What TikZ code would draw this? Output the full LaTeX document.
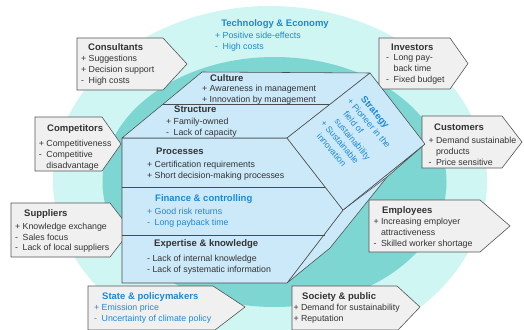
\documentclass[tikz,border=0pt]{standalone}
\usepackage{fontspec}
\setmainfont{Liberation Sans}
\definecolor{outercyan}{RGB}{207,246,242}
\definecolor{innerteal}{RGB}{125,214,210}
\definecolor{layfill}{RGB}{204,233,250}
\definecolor{layline}{RGB}{75,75,75}
\definecolor{boxfill}{RGB}{240,240,240}
\definecolor{boxline}{RGB}{85,85,85}
\definecolor{txtdark}{RGB}{51,51,51}
\definecolor{txtblue}{RGB}{30,136,212}
\newcommand{\sgnp}{\makebox[7.5pt][l]{+}}
\newcommand{\sgnm}{\makebox[7.5pt][l]{-}}
\newcommand{\sgnn}{\hspace*{7.5pt}}
\newcommand{\bodylines}[5]{%
  \foreach \zz [count=\ii] in {#5} {\node[#2, anchor=base west] (#1-\ii) at (#3, #4+10.8*\ii-10.8) {\zz};}}
\begin{document}
\begin{tikzpicture}[x=1pt,y=-1pt,
  ttl/.style={font=\fontsize{9.5}{11}\selectfont\bfseries, text=txtdark, inner sep=0pt},
  ttlblue/.style={ttl, text=txtblue},
  bdy/.style={font=\fontsize{8.8}{10.8}\selectfont, text=txtdark, inner sep=0pt},
  bdyblue/.style={bdy, text=txtblue},
  pbox/.style={draw=boxline, fill=boxfill, line width=0.6pt, line join=miter},
  layer/.style={draw=layline, fill=layfill, line width=0.55pt, line join=round}]
\useasboundingbox (0,0) rectangle (524,329);
\clip (0,0) rectangle (524,329);
% ellipses
\fill[outercyan] (270,181) ellipse [x radius=217, y radius=175];
\fill[innerteal] (274.5,182) ellipse [x radius=172, y radius=125];
% stakeholder boxes
\draw[pbox] (77,38) -- (163,38) -- (187,64) -- (163,90) -- (77,90) -- cycle;
\draw[pbox] (35,117) -- (102,117) -- (121,144) -- (102,171) -- (35,171) -- cycle;
\draw[pbox] (11,203) -- (110,203) -- (131,230) -- (110,257) -- (11,257) -- cycle;
\draw[pbox] (379,38) -- (450,38) -- (468,63.5) -- (450,89) -- (379,89) -- cycle;
\draw[pbox] (422,116) -- (502,116) -- (522,142) -- (502,168) -- (422,168) -- cycle;
\draw[pbox] (369,200) -- (480,200) -- (510,226) -- (480,252) -- (369,252) -- cycle;
\draw[pbox] (88,286) -- (213,286) -- (245,307) -- (215,330) -- (88,330) -- cycle;
\draw[pbox] (292,286) -- (397,286) -- (420,307) -- (398,330) -- (292,330) -- cycle;
% central shape
\coordinate (A) at (202,72);
\coordinate (T) at (370,73);
\coordinate (C1) at (163,104);
\coordinate (C2) at (330,104);
\coordinate (L) at (287,138);
\coordinate (D) at (122,138);
\coordinate (S) at (343,210);
\coordinate (B) at (287,283);
\coordinate (E) at (122,283);
\coordinate (F1) at (122,187);
\coordinate (F2) at (325,187);
\coordinate (G1) at (122,235);
\coordinate (G2) at (325,235);
\coordinate (R) at (425,144);
\coordinate (P1) at (387,177);
\coordinate (Q) at (330,248);
\draw[layer] (R) -- (P1) -- (Q) -- (B) -- (S) -- cycle;
\draw[layer] (P1) -- (S);
\draw[layer] (D) -- (L) -- (S) -- (B) -- (E) -- cycle;
\draw[layline, line width=0.55pt] (F1) -- (F2) (G1) -- (G2);
\draw[layer] (A) -- (T) -- (L) -- (D) -- cycle;
\draw[layline, line width=0.55pt] (C1) -- (C2);
\draw[layer] (T) -- (R) -- (S) -- (L) -- cycle;
% texts
\node[ttlblue, anchor=base] (tech) at (275,26.5) {Technology \& Economy};
\bodylines{techl}{bdyblue}{215}{39}{\sgnp Positive side-effects, \sgnm High costs}
\node[ttl, anchor=base west] (cons) at (88,50.5) {Consultants};
\bodylines{consl}{bdy}{81}{62}{\sgnp Suggestions, \sgnp Decision support, \sgnm High costs}
\node[ttl, anchor=base west] (cult) at (210,81.5) {Culture};
\bodylines{cultl}{bdy}{202}{91.5}{\sgnp Awareness in management, \sgnp Innovation by management}
\node[ttl, anchor=base west] (struc) at (174,112.5) {Structure};
\bodylines{strucl}{bdy}{166}{124.5}{\sgnp Family-owned, \sgnm Lack of capacity}
\node[ttl, anchor=base west] (proc) at (156,154.5) {Processes};
\bodylines{procl}{bdy}{147}{167.2}{\sgnp Certification requirements, \sgnp Short decision-making processes}
\node[ttlblue, anchor=base west] (fin) at (155,201.2) {Finance \& controlling};
\bodylines{finl}{bdyblue}{147}{214.5}{\sgnp Good risk returns, \sgnm Long payback time}
\node[ttl, anchor=base west] (expk) at (154,246.5) {Expertise \& knowledge};
\bodylines{expl}{bdy}{147}{261.5}{- Lack of internal knowledge, - Lack of systematic information}
\node[ttl, anchor=base west] (comp) at (47,131.8) {Competitors};
\bodylines{compl}{bdy}{38.7}{146.5}{\sgnp Competitiveness, \sgnm Competitive, \sgnn disadvantage}
\node[ttl, anchor=base west] (supp) at (24,216) {Suppliers};
\bodylines{suppl}{bdy}{15}{229.2}{\sgnp Knowledge exchange, \sgnm Sales focus, \sgnm Lack of local suppliers}
\node[ttlblue, anchor=base west] (state) at (102,299) {State \& policymakers};
\bodylines{statel}{bdyblue}{94}{310.2}{\sgnp Emission price, \sgnm Uncertainty of climate policy}
\node[ttl, anchor=base west] (soc) at (302,299) {Society \& public};
\bodylines{socl}{bdy}{293.3}{310.2}{\sgnp Demand for sustainability, \sgnp Reputation}
\node[ttl, anchor=base west] (inv) at (391,50.5) {Investors};
\bodylines{invl}{bdy}{386}{60.9}{\sgnm Long pay-, \sgnn back time, \sgnm Fixed budget}
\node[ttl, anchor=base west] (cust) at (434,130) {Customers};
\bodylines{custl}{bdy}{428.3}{143.9}{\sgnp Demand sustainable, \sgnn products, \sgnm Price sensitive}
\node[ttl, anchor=base west] (empl) at (382,213.3) {Employees};
\bodylines{empll}{bdy}{373.3}{224.9}{\sgnp Increasing employer, \sgnn attractiveness, \sgnm Skilled worker shortage}
\node[bdyblue, rotate=-50, align=left, font=\fontsize{8.8}{11.5}\selectfont] (strat) at (356,134)
  {\hspace*{7.5pt}\textbf{\fontsize{9.5}{11}\selectfont Strategy}\\ \sgnp Pioneer in the\\ \sgnn field of\\ \sgnn sustainability\\ \sgnp Sustainable\\ \sgnn innovation};
\end{tikzpicture}
\end{document}
